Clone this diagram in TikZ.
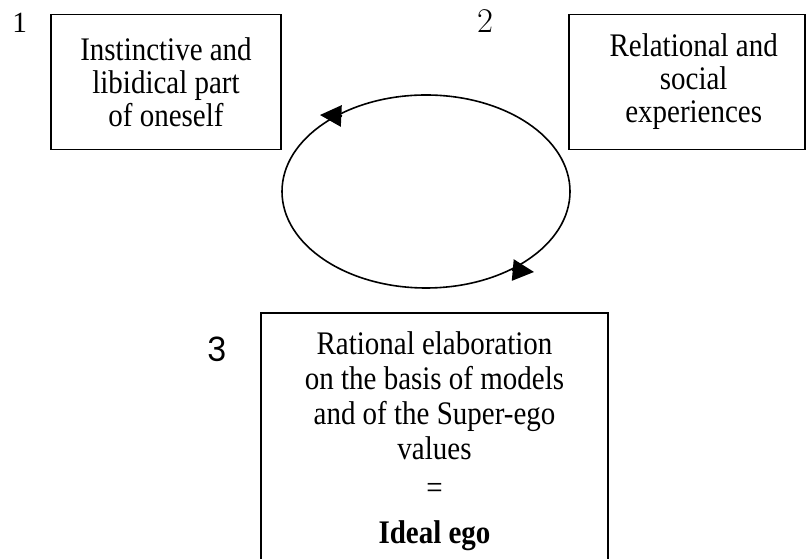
\documentclass[tikz,border=0pt]{standalone}
\usepackage{fontspec}
\setmainfont{Liberation Serif}[FakeStretch=0.88]
\newfontfamily\plainserif{Liberation Serif}
\newfontfamily\lmfont{Latin Modern Roman}
\newfontfamily\numsans{Poppins}
\usetikzlibrary{arrows.meta}
\tikzset{
	boxnode/.style={draw, line width=1.2pt, align=center, inner sep=0pt,
		font=\fontsize{24.7}{24.75}\selectfont},
	numnode/.style={anchor=base west, inner sep=0pt},
	loophead/.style={line width=1.2pt, -{Triangle[length=16pt, width=16pt]}},
}
\begin{document}
\begin{tikzpicture}[x=0.75pt, y=0.75pt]
	\path[use as bounding box, clip] (0,0) rectangle (806,559);

	% boxes
	\node[boxnode, minimum width=172.5pt, minimum height=101.25pt] (instinct) at (166,477)
		{Instinctive and\\libidical part\\of oneself};
	\node[boxnode, minimum width=177pt, minimum height=101.25pt] (social) at (687,477)
		{\hspace*{10pt}Relational and\\\hspace*{10pt}social\\\hspace*{10pt}experiences};
	\node[boxnode, minimum width=260.25pt, minimum height=192.75pt,
		font=\fontsize{24.7}{26.25}\selectfont] (ideal) at (434.5,117.5)
		{Rational elaboration\\on the basis of models\\and of the Super-ego\\values\\[3pt]
		=\\[7.5pt]\textbf{Ideal ego}};

	% numbers
	\node[numnode, font=\plainserif\fontsize{22}{22}\selectfont] (n1) at (12,526) {1};
	\node[numnode, font=\lmfont\fontsize{26}{26}\selectfont] (n2) at (477,526) {2};
	\node[numnode, font=\numsans\fontsize{25}{25}\selectfont] (n3) at (207,197) {3};

	% the loop
	\coordinate (loop) at (426,367.5);
	\draw[line width=1.2pt] (loop) ellipse[x radius=144, y radius=96.5];
	\coordinate (headA back) at (342,443);
	\coordinate (headA tip) at (320,444);
	\coordinate (headB back) at (512,289);
	\coordinate (headB tip) at (534,287);
	\draw[loophead] (headA back) -- (headA tip);
	\draw[loophead] (headB back) -- (headB tip);

\end{tikzpicture}
\end{document}
